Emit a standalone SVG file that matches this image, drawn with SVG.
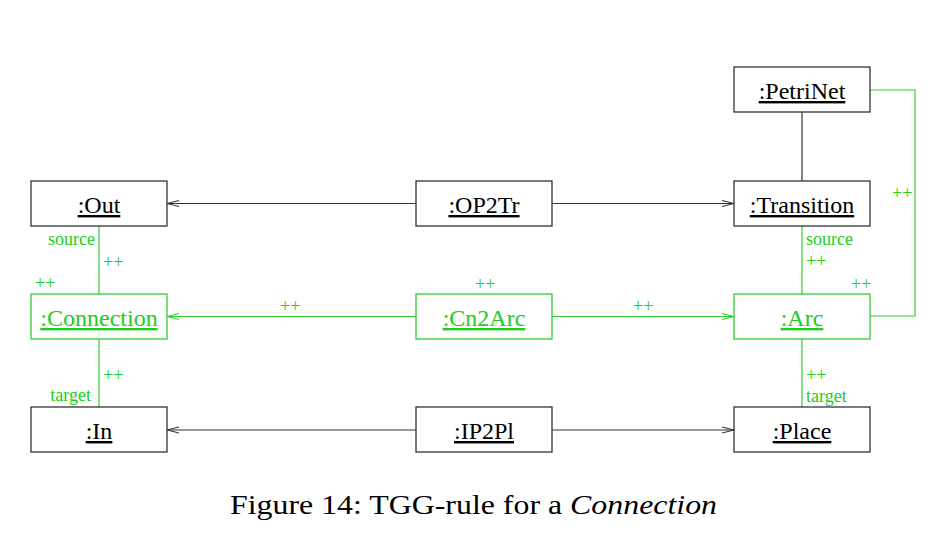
<svg xmlns="http://www.w3.org/2000/svg" width="936" height="534" viewBox="0 0 936 534" font-family="'Liberation Serif', serif">
<defs>
<style>
.box{fill:#fff;stroke:#333;stroke-width:1.3}
.gbox{fill:#fff;stroke:#33cc33;stroke-width:1.3}
.lbl{font-size:24px;text-anchor:middle;fill:#000;text-decoration:underline}
.glbl{font-size:24px;text-anchor:middle;fill:#22cc22;text-decoration:underline}
.sm{font-size:18px;fill:#22cc22}
.ln{fill:none;stroke:#333;stroke-width:1.2}
.gln{fill:none;stroke:#33cc33;stroke-width:1.2}
.cap{font-size:27px;fill:#000}
</style>
<marker id="ah" viewBox="0 0 12 8" refX="12" refY="4" markerWidth="12" markerHeight="8" markerUnits="userSpaceOnUse" orient="auto">
<path d="M0,1 L12,4 L0,7" fill="none" stroke="#333" stroke-width="1.1"/>
</marker>
<marker id="gah" viewBox="0 0 12 8" refX="12" refY="4" markerWidth="12" markerHeight="8" markerUnits="userSpaceOnUse" orient="auto">
<path d="M0,1 L12,4 L0,7" fill="none" stroke="#33cc33" stroke-width="1.1"/>
</marker>
</defs>
<rect width="936" height="534" fill="#fff"/>
<g id="connectors">
<line class="ln" x1="416" y1="203.5" x2="167" y2="203.5" marker-end="url(#ah)"/>
<line class="ln" x1="552" y1="203.5" x2="734" y2="203.5" marker-end="url(#ah)"/>
<line class="gln" x1="416" y1="316.5" x2="167" y2="316.5" marker-end="url(#gah)"/>
<line class="gln" x1="552" y1="316.5" x2="734" y2="316.5" marker-end="url(#gah)"/>
<line class="ln" x1="416" y1="430" x2="167" y2="430" marker-end="url(#ah)"/>
<line class="ln" x1="552" y1="430" x2="734" y2="430" marker-end="url(#ah)"/>
<line class="ln" x1="802" y1="112" x2="802" y2="181"/>
<line class="gln" x1="99" y1="226" x2="99" y2="294"/>
<line class="gln" x1="99" y1="339" x2="99" y2="407"/>
<line class="gln" x1="802" y1="226" x2="802" y2="294"/>
<line class="gln" x1="802" y1="339" x2="802" y2="407"/>
<polyline class="gln" points="870,90 915,90 915,316 870,316"/>
<text class="sm" x="95" y="245" text-anchor="end">source</text>
<text class="sm" x="103" y="268">++</text>
<text class="sm" x="35" y="289">++</text>
<text class="sm" x="91" y="401" text-anchor="end">target</text>
<text class="sm" x="103" y="381">++</text>
<text class="sm" x="806" y="245">source</text>
<text class="sm" x="806" y="267">++</text>
<text class="sm" x="851" y="290">++</text>
<text class="sm" x="892" y="199">++</text>
<text class="sm" x="806" y="381">++</text>
<text class="sm" x="806" y="402">target</text>
<text class="sm" x="475" y="290">++</text>
<text class="sm" x="280" y="312">++</text>
<text class="sm" x="633" y="312">++</text>
</g>
<g id="petrinet"><rect class="box" x="734" y="67" width="136" height="45"/><text class="lbl" x="802" y="99">:PetriNet</text></g>
<g id="out"><rect class="box" x="31" y="181" width="136" height="45"/><text class="lbl" x="99" y="213">:Out</text></g>
<g id="op2tr"><rect class="box" x="416" y="181" width="136" height="45"/><text class="lbl" x="484" y="213">:OP2Tr</text></g>
<g id="transition"><rect class="box" x="734" y="181" width="136" height="45"/><text class="lbl" x="802" y="213">:Transition</text></g>
<g id="connection"><rect class="gbox" x="31" y="294" width="136" height="45"/><text class="glbl" x="99" y="326">:Connection</text></g>
<g id="cn2arc"><rect class="gbox" x="416" y="294" width="136" height="45"/><text class="glbl" x="484" y="326">:Cn2Arc</text></g>
<g id="arc"><rect class="gbox" x="734" y="294" width="136" height="45"/><text class="glbl" x="802" y="326">:Arc</text></g>
<g id="in"><rect class="box" x="31" y="407" width="136" height="45"/><text class="lbl" x="99" y="439">:In</text></g>
<g id="ip2pl"><rect class="box" x="416" y="407" width="136" height="45"/><text class="lbl" x="484" y="439">:IP2Pl</text></g>
<g id="place"><rect class="box" x="734" y="407" width="136" height="45"/><text class="lbl" x="802" y="439">:Place</text></g>
<text class="cap" x="230" y="514" textLength="487" lengthAdjust="spacingAndGlyphs">Figure 14:  TGG-rule for a <tspan font-style="italic">Connection</tspan></text>
</svg>
